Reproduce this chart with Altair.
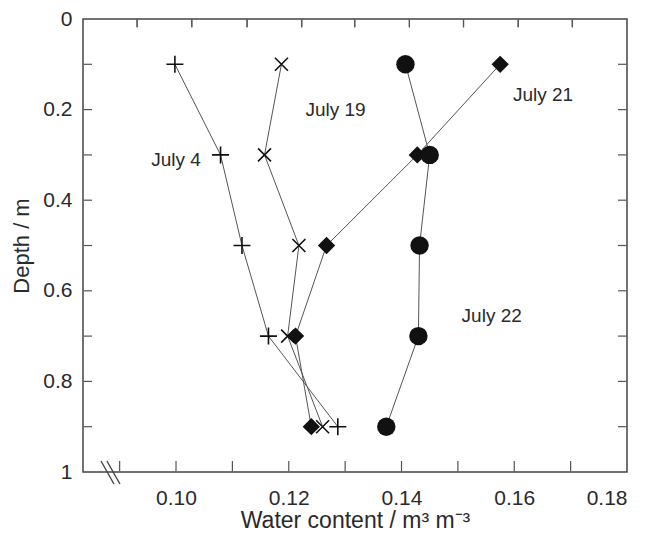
import altair as alt
import pandas as pd

# ---- data ----
depth = [0.1, 0.3, 0.5, 0.7, 0.9]
july4 = [0.0998, 0.1079, 0.1117, 0.1164, 0.1287]
july19 = [0.1187, 0.1157, 0.1218, 0.1198, 0.1260]
july21 = [0.1575, 0.1428, 0.1267, 0.1212, 0.1240]
july22 = [0.1407, 0.1450, 0.1432, 0.1430, 0.1373]

label_text = ["July 4", "July 19", "July 21", "July 22"]
label_x = [0.1000, 0.1283, 0.1651, 0.1560]
label_y = [0.311, 0.200, 0.168, 0.656]

x_label_values = [0.10, 0.12, 0.14, 0.16, 0.18]
y_label_values = [0.0, 0.2, 0.4, 0.6, 0.8, 1.0]
x_minor_ticks = [0.09, 0.10, 0.11, 0.12, 0.13, 0.14, 0.15, 0.16, 0.17]
# the top frame ticks of the reference sit at these x values (offset from the bottom ones)
x_top_ticks = [0.0931, 0.1028, 0.1126, 0.1223, 0.1317, 0.1414, 0.1510, 0.1607, 0.1703]
y_minor_ticks = [0.1, 0.2, 0.3, 0.4, 0.5, 0.6, 0.7, 0.8, 0.9]

break_x1 = [0.08669, 0.08775]
break_x2 = [0.08899, 0.09005]
break_y1 = [0.9757, 0.9757]
break_y2 = [1.0265, 1.0265]

X_MIN, X_MAX = 0.0835, 0.18
W, H = 544, 453
FONT = "Liberation Sans"
TXT = "#2a2a2a"
tick_color = "#555555"

rows = []
for name, vals in [("July 4", july4), ("July 19", july19), ("July 21", july21), ("July 22", july22)]:
    for d, v in zip(depth, vals):
        rows.append({"series": name, "depth": d, "wc": v})
df = pd.DataFrame(rows)

xscale = alt.Scale(domain=[X_MIN, X_MAX], nice=False, zero=False)
yscale = alt.Scale(domain=[0, 1], reverse=True, nice=False, zero=False)

x_axis = alt.Axis(values=x_label_values, format=".2f", tickSize=0, domain=False, grid=False,
                  labelFont=FONT, labelFontSize=21, labelColor=TXT, labelPadding=15,
                  titleFont=FONT, titleFontSize=23, titleColor=TXT, titleFontWeight="normal",
                  titlePadding=1)
y_axis = alt.Axis(values=y_label_values, format="~g", tickSize=0, domain=False, grid=False,
                  labelFont=FONT, labelFontSize=21, labelColor=TXT, labelPadding=11,
                  titleFont=FONT, titleFontSize=22, titleColor=TXT, titleFontWeight="normal",
                  titlePadding=9)
X_TITLE = "Water content / m³ m⁻³"
Y_TITLE = "Depth / m"


def yenc(field):
    return alt.Y(field, scale=yscale, axis=y_axis, title=Y_TITLE)


def xenc(field):
    return alt.X(field, scale=xscale, axis=x_axis, title=X_TITLE)


base = alt.Chart(df)

lines = base.mark_line(color="#555555", strokeWidth=1).encode(
    x=xenc("wc:Q"),
    y=yenc("depth:Q"),
    detail="series:N",
    order="depth:Q",
)

plus = base.transform_filter(alt.datum.series == "July 4").mark_point(
    shape="M-1,0L1,0M0,-1L0,1", filled=False, stroke="#111111", strokeWidth=1.6, size=289, opacity=1
).encode(x=xenc("wc:Q"), y=yenc("depth:Q"))

cross = base.transform_filter(alt.datum.series == "July 19").mark_point(
    shape="M-1,-1L1,1M-1,1L1,-1", filled=False, stroke="#111111", strokeWidth=1.6, size=169, opacity=1
).encode(x=xenc("wc:Q"), y=yenc("depth:Q"))

diam = base.transform_filter(alt.datum.series == "July 21").mark_point(
    shape="diamond", filled=True, fill="#111111", size=300, opacity=1
).encode(x=xenc("wc:Q"), y=yenc("depth:Q"))

circ = base.transform_filter(alt.datum.series == "July 22").mark_point(
    shape="circle", filled=True, fill="#111111", size=340, opacity=1
).encode(x=xenc("wc:Q"), y=yenc("depth:Q"))

labels = alt.Chart(pd.DataFrame({"t": label_text, "wc": label_x, "depth": label_y})).mark_text(
    font=FONT, fontSize=19, color=TXT, align="center", baseline="middle"
).encode(
    x=xenc("wc:Q"),
    y=yenc("depth:Q"),
    text="t:N",
)

bottom_ticks = alt.Chart(pd.DataFrame({"wc": x_minor_ticks})).mark_rule(
    color=tick_color, strokeWidth=1.2
).encode(x=xenc("wc:Q"), y=alt.value(H - 0.5), y2=alt.value(H - 11))

top_df = pd.DataFrame({"wc": x_top_ticks})
# top ticks, drawn two coinciding ways: a tick mark and a rule placed through the y scale
top_ticks_a = alt.Chart(top_df).mark_tick(
    color=tick_color, thickness=1.2, size=8, orient="vertical", opacity=1
).encode(x=xenc("wc:Q"), y=alt.value(4.5))

top_ticks_b = alt.Chart(top_df).mark_rule(
    color=tick_color, strokeWidth=1.2
).encode(x=xenc("wc:Q"), y=alt.datum(0.0), y2=alt.datum(0.0177))

left_ticks = alt.Chart(pd.DataFrame({"depth": y_minor_ticks})).mark_rule(
    color=tick_color, strokeWidth=1.2
).encode(y=yenc("depth:Q"), x=alt.value(0.5), x2=alt.value(9))

right_ticks = alt.Chart(pd.DataFrame({"depth": y_minor_ticks})).mark_rule(
    color=tick_color, strokeWidth=1.2
).encode(y=yenc("depth:Q"), x=alt.value(W - 0.5), x2=alt.value(W - 9))

brk = alt.Chart(pd.DataFrame({"wc": break_x1, "wc2": break_x2, "depth": break_y1, "depth2": break_y2})).mark_rule(
    color="#444444", strokeWidth=1.4, clip=False
).encode(
    x=xenc("wc:Q"), x2="wc2:Q",
    y=yenc("depth:Q"), y2="depth2:Q",
)

chart = alt.layer(
    lines, plus, cross, diam, circ, labels, bottom_ticks, top_ticks_a, top_ticks_b,
    left_ticks, right_ticks, brk
).properties(
    width=W, height=H,
    autosize=alt.AutoSizeParams(type="none"),
    padding={"left": 83, "top": 19, "right": 37, "bottom": 63},
    background="white",
).configure_view(stroke="#444444", strokeWidth=1.5)

chart.save("out.html", embed_options={"renderer": "svg", "actions": False})
